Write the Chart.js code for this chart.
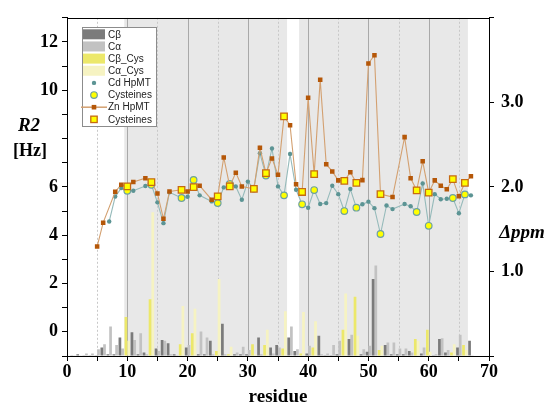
<!DOCTYPE html>
<html><head><meta charset="utf-8">
<script src="https://cdn.jsdelivr.net/npm/chart.js@4/dist/chart.umd.min.js"></script>
<style>html,body{margin:0;padding:0;background:#fff;}canvas{display:block;}</style>
</head><body>
<canvas id="c" width="547" height="407"></canvas>
<script>
// ---------- data ----------
const residues = [1,2,3,4,5,6,7,8,9,10,11,12,13,14,15,16,17,18,19,20,21,22,23,24,25,26,27,28,29,30,31,32,33,34,35,36,37,38,39,40,41,42,43,44,45,46,47,48,49,50,51,52,53,54,55,56,57,58,59,60,61,62,63,64,65,66,67];
// R2 [Hz], Cd-HpMT (null = not observed)
const cdR2 = [null,null,null,null,null,null,4.57,5.60,5.95,5.84,5.84,null,6.04,6.09,5.36,4.50,5.78,null,5.54,5.59,6.29,5.65,null,5.40,5.33,5.98,6.12,6.02,5.47,6.22,5.93,7.39,6.47,7.59,6.02,5.65,7.36,5.88,5.28,5.14,5.87,5.29,5.33,6.05,5.70,5.00,5.91,5.14,5.28,5.39,5.12,4.05,5.23,5.08,null,5.29,5.20,4.96,6.14,4.39,5.70,5.49,5.51,5.54,4.91,5.69,5.65];
// R2 [Hz], Zn-HpMT
const znR2 = [null,null,null,null,3.53,4.52,null,5.80,6.09,6.02,6.20,null,6.36,6.20,5.73,4.68,5.81,null,5.88,5.81,5.99,6.05,null,5.47,5.61,7.22,6.02,6.59,6.02,null,5.92,7.62,6.57,7.18,6.50,8.92,8.55,6.11,5.79,9.69,6.53,10.44,6.94,6.64,6.27,6.25,6.61,6.17,6.28,11.11,11.45,5.70,null,5.58,null,8.06,6.36,5.86,7.06,5.76,6.27,6.05,5.90,6.32,5.61,6.17,6.44];
// chemical shift differences, non-cysteine residues (Δppm)
const cbShift = [0.01,0.02,0.01,0.01,0.01,0.10,0.02,0.02,0.22,null,0.28,0.02,0.04,null,0.09,0.19,0.15,0.02,null,0.10,null,0.02,0.02,0.18,null,0.38,null,0.02,0.02,0.02,null,0.22,null,0.10,0.13,null,0.22,0.06,null,0.03,null,0.24,0.01,0.01,0.02,null,0.20,null,0.02,0.05,0.91,null,0.13,0.02,0.02,0.02,0.06,null,0.03,null,0.01,0.20,0.04,null,0.10,null,0.18];
const caShift = [0.01,0.01,0.03,0.03,0.08,0.14,0.35,0.13,0.09,null,0.19,0.27,0.02,null,0.06,0.18,0.02,0.01,null,0.13,null,0.29,0.22,0.02,null,0.02,null,0.04,0.11,0.07,null,0.02,null,0.03,0.10,null,0.35,0.08,null,0.12,null,0.02,0.03,0.13,0.18,null,0.25,null,0.08,0.12,1.07,null,0.16,0.16,0.09,0.09,0.04,null,0.10,null,0.02,0.21,0.07,null,0.25,null,0.01];
// cysteine residues and their shift differences
const cysResidues = [10,14,19,21,25,27,31,33,36,39,41,46,48,52,58,60,64,66];
const cbCysShift = [0.46,0.67,0.14,0.27,0.06,0.02,0.14,0.13,0.09,0.03,0.10,0.31,0.70,0.07,0.20,0.31,0.04,0.13];
const caCysShift = [0.18,1.70,0.59,0.56,0.91,0.11,0.02,0.31,0.53,0.52,0.41,0.74,0.24,0.12,0.18,0.05,0.14,0.07];
// shaded residue ranges and reference lines
const shadedRanges = [[9.5,36.5],[38.5,66.5]];
const solidLines = [10,20,30,40,50,60];
const dottedLines = [5,15,25,35,45,55,65];
const xTicks = [0,10,20,30,40,50,60,70];
const leftTicks = [0,2,4,6,10,12];
const rightTicks = [1,2,3];

// ---------- helpers ----------
const pts = (xs, ys) => xs.map((x,i)=>({x, y: ys[i]})).filter(p => p.y !== null && p.y !== undefined);
const cysPts = (ys) => cysResidues.map(r => ({x:r, y: ys[residues.indexOf(r)]})).filter(p=>p.y!==null);

const SERIF = '"Liberation Serif","Times New Roman",serif';
const SANS = '"Liberation Sans",Arial,sans-serif';
const C = {
  cb:'#7b7b7b', ca:'#c2c2c2', cbCys:'#ece86a', caCys:'#f6f3c2',
  cdDot:'#5c9494', cdLine:'#95baba', znDot:'#b55708', znLine:'#d3a070',
  yellow:'#ffff00', cdCysBorder:'#6da1a1', znCysBorder:'#c66a12'
};

const datasets = [
  {type:'line', label:'Zn HpMT Cys', data: cysPts(znR2), yAxisID:'y', showLine:false, order:0,
   pointStyle:'rect', pointRadius:4.6, pointBackgroundColor:C.yellow, pointBorderColor:C.znCysBorder, pointBorderWidth:1.3},
  {type:'line', label:'Zn HpMT', data: pts(residues, znR2), yAxisID:'y', order:1,
   borderColor:C.znLine, borderWidth:1.1, pointStyle:'rect', pointRadius:3.2, pointBackgroundColor:C.znDot, pointBorderWidth:0},
  {type:'line', label:'Cd HpMT Cys', data: cysPts(cdR2), yAxisID:'y', showLine:false, order:2,
   pointRadius:3.3, pointBackgroundColor:C.yellow, pointBorderColor:C.cdCysBorder, pointBorderWidth:1.2},
  {type:'line', label:'Cd HpMT', data: pts(residues, cdR2), yAxisID:'y', order:3,
   borderColor:C.cdLine, borderWidth:1.1, pointRadius:2.2, pointBackgroundColor:C.cdDot, pointBorderWidth:0},
  {type:'bar', label:'Cβ', data: pts(residues, cbShift), yAxisID:'y2', stack:'b', backgroundColor:C.cb, order:4},
  {type:'bar', label:'Cα', data: pts(residues, caShift), yAxisID:'y2', stack:'a', backgroundColor:C.ca, order:5},
  {type:'bar', label:'Cβ_Cys', data: pts(cysResidues, cbCysShift), yAxisID:'y2', stack:'b', backgroundColor:C.cbCys, order:6},
  {type:'bar', label:'Cα_Cys', data: pts(cysResidues, caCysShift), yAxisID:'y2', stack:'a', backgroundColor:C.caCys, order:7},
];
datasets.forEach(d => { if (d.type==='bar') { d.categoryPercentage = 0.9; d.barPercentage = 1.0; d.borderWidth = 0; } });

// ---------- plugins ----------
const backdrop = {
  id:'backdrop',
  beforeDatasetsDraw(chart){
    const {ctx, chartArea:a, scales:{x}} = chart;
    ctx.save();
    ctx.beginPath(); ctx.rect(a.left, a.top, a.right-a.left, a.bottom-a.top); ctx.clip();
    ctx.fillStyle = '#e8e8e8';
    shadedRanges.forEach(([s,e]) => {
      const x0 = x.getPixelForValue(s), x1 = x.getPixelForValue(e);
      ctx.fillRect(x0, a.top, x1-x0, a.bottom-a.top);
    });
    ctx.lineWidth = 1;
    ctx.strokeStyle = '#c8c8c8'; ctx.setLineDash([2,2]);
    dottedLines.forEach(v => { const p = Math.round(x.getPixelForValue(v))+0.5; ctx.beginPath(); ctx.moveTo(p,a.top); ctx.lineTo(p,a.bottom); ctx.stroke(); });
    ctx.setLineDash([]); ctx.strokeStyle = '#a9a9a9';
    solidLines.forEach(v => { const p = Math.round(x.getPixelForValue(v))+0.5; ctx.beginPath(); ctx.moveTo(p,a.top); ctx.lineTo(p,a.bottom); ctx.stroke(); });
    ctx.restore();
  },
  afterDraw(chart){
    const {ctx, chartArea:a} = chart;
    ctx.save();
    // top frame line
    ctx.strokeStyle = '#000'; ctx.lineWidth = 1;
    ctx.beginPath(); ctx.moveTo(a.left, Math.round(a.top)+0.5); ctx.lineTo(a.right, Math.round(a.top)+0.5); ctx.stroke();
    // axis titles
    ctx.fillStyle = '#000'; ctx.textAlign = 'center'; ctx.textBaseline = 'middle';
    ctx.font = 'bold 19px ' + SERIF;
    ctx.fillText('residue', (a.left+a.right)/2, 397);
    ctx.font = 'italic bold 19px ' + SERIF;
    ctx.fillText('R2', 29, 126);
    ctx.font = 'bold 18px ' + SERIF;
    ctx.fillText('[Hz]', 30, 151);
    ctx.font = 'italic bold 19px ' + SERIF;
    ctx.fillText('Δppm', 522, 233);
    // legend
    const lx = 82, ly = 27, lw = 74, lh = 99;
    ctx.fillStyle = '#fff'; ctx.fillRect(lx, ly, lw, lh);
    ctx.strokeStyle = '#8c8c8c'; ctx.strokeRect(lx+0.5, ly+0.5, lw, lh);
    const items = [
      {t:'Cβ', k:'box', c:C.cb}, {t:'Cα', k:'box', c:C.ca},
      {t:'Cβ_Cys', k:'box', c:C.cbCys}, {t:'Cα_Cys', k:'box', c:C.caCys},
      {t:'Cd HpMT', k:'dot'}, {t:'Cysteines', k:'ycirc'},
      {t:'Zn HpMT', k:'zn'}, {t:'Cysteines', k:'ysq'}
    ];
    ctx.textAlign = 'left'; ctx.textBaseline = 'middle';
    ctx.font = '10px ' + SANS;
    items.forEach((it, i) => {
      const cy = 34.3 + i*12.15, sx = 83, sw = 22, mx = sx + sw/2;
      if (it.k === 'box') { ctx.fillStyle = it.c; ctx.fillRect(sx, cy-5, sw, 10); }
      else if (it.k === 'dot') { ctx.fillStyle = C.cdDot; ctx.beginPath(); ctx.arc(mx, cy, 2.2, 0, Math.PI*2); ctx.fill(); }
      else if (it.k === 'ycirc') { ctx.fillStyle = C.yellow; ctx.strokeStyle = C.cdCysBorder; ctx.lineWidth = 1.2; ctx.beginPath(); ctx.arc(mx, cy, 3.3, 0, Math.PI*2); ctx.fill(); ctx.stroke(); }
      else if (it.k === 'zn') { ctx.strokeStyle = C.znLine; ctx.lineWidth = 1.5; ctx.beginPath(); ctx.moveTo(sx-2, cy); ctx.lineTo(sx+sw+2, cy); ctx.stroke(); ctx.fillStyle = C.znDot; ctx.fillRect(mx-2.3, cy-2.3, 4.6, 4.6); }
      else if (it.k === 'ysq') { ctx.fillStyle = C.yellow; ctx.strokeStyle = C.znCysBorder; ctx.lineWidth = 1.3; ctx.fillRect(mx-3.2, cy-3.2, 6.4, 6.4); ctx.strokeRect(mx-3.2, cy-3.2, 6.4, 6.4); }
      ctx.fillStyle = '#222'; ctx.fillText(it.t, 108, cy+0.5);
    });
    ctx.restore();
  }
};

const tickFont = {family: SERIF, size: 18, weight: 'bold'};
new Chart(document.getElementById('c'), {
  type:'bar',
  data:{ datasets },
  options:{
    responsive:false, animation:false, devicePixelRatio:1,
    layout:{ padding:{ top:15, left:0, right:0, bottom:0 } },
    plugins:{ legend:{display:false}, tooltip:{enabled:false} },
    scales:{
      x:{ type:'linear', min:0, max:70, offset:false, stacked:true, position:'bottom',
          afterBuildTicks: s => { s.ticks = [0,5,10,15,20,25,30,35,40,45,50,55,60,65,70].map(v=>({value:v})); },
          ticks:{ autoSkip:false, maxRotation:0, color:'#000', font:tickFont, padding:1,
                  callback: v => xTicks.includes(v) ? String(v) : '' },
          grid:{ drawOnChartArea:false, offset:false, tickLength:5, tickColor:'#000', color:'#000' },
          border:{ display:true, color:'#000', width:1 },
          afterFit: s => { s.height = 51; } },
      y:{ position:'left', min:-1, max:13,
          ticks:{ stepSize:1, autoSkip:false, color:'#000', font:tickFont, padding:4,
                  callback: v => leftTicks.includes(v) ? String(v) : '' },
          grid:{ drawOnChartArea:false, tickLength:5, tickColor:'#000', color:'#000' },
          border:{ display:true, color:'#000', width:1 },
          afterFit: s => { s.width = 67; } },
      y2:{ position:'right', min:0, max:4, stacked:true,
          ticks:{ stepSize:1, autoSkip:false, color:'#000', font:tickFont, padding:7,
                  callback: v => rightTicks.includes(v) ? v.toFixed(1) : '' },
          grid:{ drawOnChartArea:false, tickLength:5, tickColor:'#000', color:'#000' },
          border:{ display:true, color:'#000', width:1 },
          afterFit: s => { s.width = 58; } }
    }
  },
  plugins:[backdrop]
});
</script>
</body></html>
